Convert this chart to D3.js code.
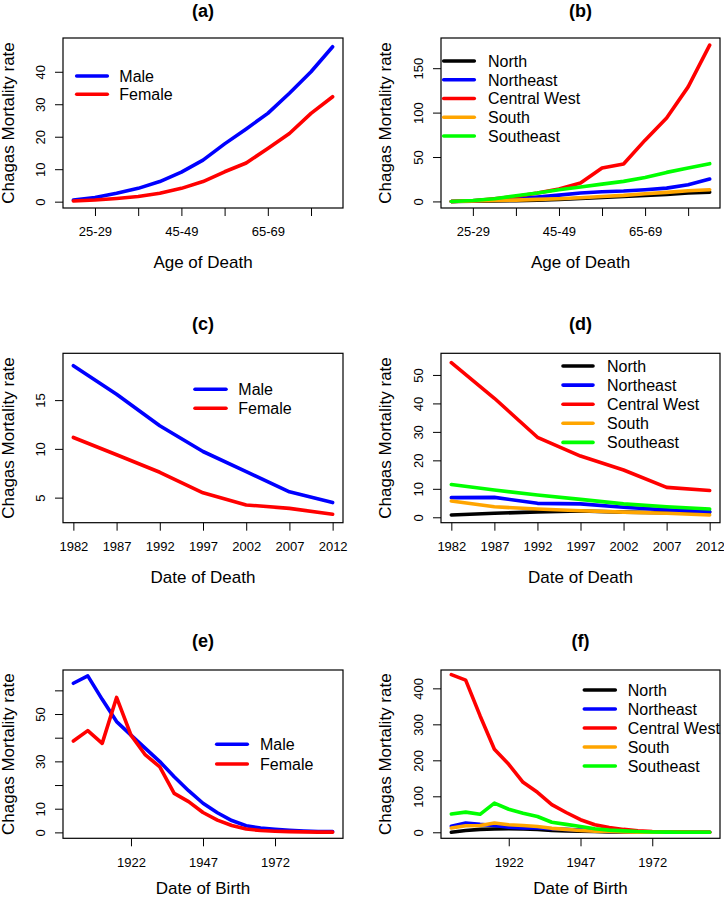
<!DOCTYPE html>
<html>
<head>
<meta charset="utf-8">
<script src="https://cdn.jsdelivr.net/npm/d3@7"></script>
<style>
  body { margin: 0; background: #fff; }
  svg { display: block; font-family: Arial, "Liberation Sans", sans-serif; }
</style>
</head>
<body>
<svg id="chart" width="724" height="899"></svg>
<script>
// ---------------- DATA ----------------
const ageGroups = ["20-24","25-29","30-34","35-39","40-44","45-49","50-54","55-59","60-64","65-69","70-74","75-79","80+"];
const ageMale   = [0.5, 1.3, 2.6, 4.1, 6.2, 9.1, 12.8, 17.8, 22.4, 27.2, 33.4, 40.0, 47.7];
const ageFemale = [0.2, 0.5, 1.0, 1.6, 2.6, 4.1, 6.2, 9.2, 11.9, 16.4, 21.0, 27.2, 32.3];

const ageNorth       = [0, 0.2, 0.5, 0.8, 1.5, 2.3, 3.4, 4.5, 5.6, 6.8, 7.9, 9.4, 10.5];
const ageNortheast   = [0, 0.8, 1.9, 3.0, 4.9, 7.1, 9.4, 10.9, 11.7, 13.2, 15.0, 18.8, 25.2];
const ageCentralWest = [0, 0.8, 3.0, 5.6, 9.4, 13.9, 20.7, 37.6, 42.1, 69, 94, 129, 176];
const ageSouth       = [0, 0.4, 1.0, 1.5, 2.3, 3.0, 4.1, 5.6, 6.8, 8.6, 10.2, 12.0, 13.2];
const ageSoutheast   = [0, 1.1, 3.0, 6.4, 9.4, 13.2, 16.2, 19.5, 22.6, 27.0, 32.7, 37.6, 42.5];

const deathYears  = [1982, 1987, 1992, 1997, 2002, 2007, 2012];
const deathMale   = [18.53, 15.6, 12.37, 9.73, 7.67, 5.6, 4.49];
const deathFemale = [11.17, 9.4, 7.6, 5.5, 4.25, 3.9, 3.3];

const deathNorth       = [0.8, 1.4, 1.9, 2.2, 1.8, 1.6, 1.8];
const deathNortheast   = [6.9, 7.0, 4.9, 4.7, 3.5, 2.6, 2.0];
const deathCentralWest = [54.3, 41.8, 28.1, 21.5, 16.6, 10.5, 9.4];
const deathSouth       = [5.7, 3.7, 2.9, 2.3, 1.8, 1.4, 0.8];
const deathSoutheast   = [11.5, 9.6, 7.8, 6.3, 4.7, 3.7, 2.9];

const birthYears  = [1902,1907,1912,1917,1922,1927,1932,1937,1942,1947,1952,1957,1962,1967,1972,1977,1982,1987,1992];
const birthMale   = [63.0, 66.1, 56.2, 46.8, 41.1, 35.5, 29.9, 23.5, 17.6, 12.3, 8.3, 5.0, 2.8, 1.8, 1.3, 0.9, 0.6, 0.4, 0.3];
const birthFemale = [38.6, 43.0, 37.6, 57.0, 41.1, 32.7, 27.7, 16.5, 13.0, 8.4, 5.2, 2.9, 1.4, 0.8, 0.5, 0.3, 0.2, 0.1, 0.1];

const birthNorth       = [0, 5, 8, 9, 10, 9, 8, 5, 4, 3, 2, 1, 0.5, 0.3, 0.2, 0.1, 0.1, 0, 0];
const birthNortheast   = [17, 26, 22, 19, 14, 12, 12, 10, 8, 6, 4, 2, 1.5, 1, 0.5, 0.3, 0.2, 0.1, 0.1];
const birthCentralWest = [438, 423, 324, 231, 189, 139, 111, 77, 55, 35, 21, 13, 8, 4, 2, 1, 0.5, 0.3, 0.2];
const birthSouth       = [12, 18, 19, 26, 21, 19, 16, 11, 8, 5, 3, 2, 1, 0.5, 0.3, 0.2, 0.1, 0.1, 0];
const birthSoutheast   = [51, 56, 50, 81, 64, 53, 44, 28, 22, 16, 10, 6, 4, 2, 1, 0.5, 0.3, 0.2, 0.1];

const sexNames    = ["Male", "Female"];
const regionNames = ["North", "Northeast", "Central West", "South", "Southeast"];

const ageTickIdx   = [2, 4, 6, 8, 10, 12];
const birthTickIdx = [5, 10, 15];

// ---------------- STYLE / LAYOUT ----------------
const sexColors    = ["#0000ff", "#ff0000"];
const regionColors = ["#000000", "#0000ff", "#ff0000", "#ffa500", "#00ff00"];

const W = 724, H = 899;
const svg = d3.select("#chart");
const colX = [{l: 63, r: 343, ytitle: 14}, {l: 441, r: 720, ytitle: 391}];
const rowY = [{t: 38, b: 208}, {t: 353.3, b: 522.7}, {t: 670, b: 838.3}];

function idx(arr) { return arr.map((_, i) => i + 1); }

const panels = [
  { title: "(a)", col: 0, row: 0, xTitle: "Age of Death",
    xs: idx(ageGroups), xDomain: [0.52, 13.48], xTicks: ageTickIdx,
    xFmt: (d, i) => (i % 2 === 0 ? ageGroups[d - 1] : ""),
    yDomain: [-1.95, 50.4], yTicks: [0, 10, 20, 30, 40], yLabels: [0, 10, 20, 30, 40],
    series: [ageMale, ageFemale], names: sexNames, colors: sexColors,
    legend: {x1: 76.7, x2: 107.3, tx: 119.3, y0: 76, dy: 18.3} },
  { title: "(b)", col: 1, row: 0, xTitle: "Age of Death",
    xs: idx(ageGroups), xDomain: [0.52, 13.48], xTicks: ageTickIdx,
    xFmt: (d, i) => (i % 2 === 0 ? ageGroups[d - 1] : ""),
    yDomain: [-7.4, 184], yTicks: [0, 50, 100, 150], yLabels: [0, 50, 100, 150],
    series: [ageNorth, ageNortheast, ageCentralWest, ageSouth, ageSoutheast], names: regionNames, colors: regionColors,
    legend: {x1: 443.7, x2: 474.3, tx: 488, y0: 61, dy: 18.75} },
  { title: "(c)", col: 0, row: 1, xTitle: "Date of Death",
    xs: deathYears, xDomain: [1980.8, 2013.2], xTicks: deathYears,
    xFmt: d => String(d),
    yDomain: [2.43, 19.8], yTicks: [5, 10, 15], yLabels: [5, 10, 15],
    series: [deathMale, deathFemale], names: sexNames, colors: sexColors,
    legend: {x1: 195, x2: 226, tx: 238.3, y0: 389.3, dy: 19} },
  { title: "(d)", col: 1, row: 1, xTitle: "Date of Death",
    xs: deathYears, xDomain: [1980.8, 2013.2], xTicks: deathYears,
    xFmt: d => String(d),
    yDomain: [-1.9, 57.6], yTicks: [0, 10, 20, 30, 40, 50], yLabels: [0, 10, 20, 30, 40, 50],
    series: [deathNorth, deathNortheast, deathCentralWest, deathSouth, deathSoutheast], names: regionNames, colors: regionColors,
    legend: {x1: 563, x2: 593, tx: 607, y0: 366, dy: 19.1} },
  { title: "(e)", col: 0, row: 2, xTitle: "Date of Birth",
    xs: idx(birthYears), xDomain: [0.28, 19.72], xTicks: birthTickIdx,
    xFmt: d => String(birthYears[d - 1]),
    yDomain: [-2.5, 68.6], yTicks: [0, 10, 20, 30, 40, 50, 60], yLabels: [0, 10, 30, 50],
    series: [birthMale, birthFemale], names: sexNames, colors: sexColors,
    legend: {x1: 216.7, x2: 247.3, tx: 260, y0: 744.3, dy: 19.7} },
  { title: "(f)", col: 1, row: 2, xTitle: "Date of Birth",
    xs: idx(birthYears), xDomain: [0.28, 19.72], xTicks: birthTickIdx,
    xFmt: d => String(birthYears[d - 1]),
    yDomain: [-16.7, 451], yTicks: [0, 100, 200, 300, 400], yLabels: [0, 100, 200, 300, 400],
    series: [birthNorth, birthNortheast, birthCentralWest, birthSouth, birthSoutheast], names: regionNames, colors: regionColors,
    legend: {x1: 584.3, x2: 615.3, tx: 627.7, y0: 690, dy: 19} }
];

panels.forEach(p => {
  const c = colX[p.col], r = rowY[p.row];
  const x = d3.scaleLinear().domain(p.xDomain).range([c.l, c.r]);
  const y = d3.scaleLinear().domain(p.yDomain).range([r.b, r.t]);
  const g = svg.append("g");

  // title
  g.append("text").attr("x", (c.l + c.r) / 2).attr("y", Math.max(r.t - 23, 17))
    .attr("text-anchor", "middle").attr("font-size", 18).attr("font-weight", "bold")
    .text(p.title);

  // x axis
  const xAxis = d3.axisBottom(x).tickValues(p.xTicks).tickSize(8).tickPadding(11)
    .tickFormat(p.xFmt);
  const gx = g.append("g").attr("transform", `translate(0,${r.b})`).call(xAxis);
  gx.select(".domain").remove();
  gx.selectAll("line").attr("stroke", "#000").attr("stroke-width", 1);
  gx.selectAll("text").attr("font-size", 13).attr("font-family", "Arial, 'Liberation Sans', sans-serif").attr("fill", "#000");

  // y axis
  const yAxis = d3.axisLeft(y).tickValues(p.yTicks).tickSize(8)
    .tickFormat(d => (p.yLabels.includes(d) ? String(d) : ""));
  const gy = g.append("g").attr("transform", `translate(${c.l},0)`).call(yAxis);
  gy.select(".domain").remove();
  gy.selectAll("line").attr("stroke", "#000").attr("stroke-width", 1);
  gy.selectAll("text")
    .attr("font-size", 13).attr("font-family", "Arial, 'Liberation Sans', sans-serif").attr("fill", "#000")
    .attr("x", null).attr("dy", null)
    .attr("transform", "translate(-18.5,0) rotate(-90)")
    .attr("text-anchor", "middle");

  // axis titles
  g.append("text").attr("x", (c.l + c.r) / 2).attr("y", Math.min(r.b + 60, H - 5))
    .attr("text-anchor", "middle").attr("font-size", 17).text(p.xTitle);
  g.append("text")
    .attr("transform", `translate(${c.ytitle},${(r.t + r.b) / 2}) rotate(-90)`)
    .attr("text-anchor", "middle").attr("font-size", 17).text("Chagas Mortality rate");

  // lines
  const line = d3.line().x((d, i) => x(p.xs[i])).y(d => y(d));
  p.series.forEach((s, k) => {
    g.append("path").datum(s).attr("d", line)
      .attr("fill", "none").attr("stroke", p.colors[k]).attr("stroke-width", 3.6)
      .attr("stroke-linejoin", "round").attr("stroke-linecap", "round");
  });

  // box
  g.append("rect").attr("x", c.l).attr("y", r.t).attr("width", c.r - c.l).attr("height", r.b - r.t)
    .attr("fill", "none").attr("stroke", "#000").attr("stroke-width", 1.2);

  // legend
  const L = p.legend;
  p.names.forEach((nm, k) => {
    const yy = L.y0 + k * L.dy;
    g.append("line").attr("x1", L.x1).attr("x2", L.x2).attr("y1", yy).attr("y2", yy)
      .attr("stroke", p.colors[k]).attr("stroke-width", 3.6).attr("stroke-linecap", "round");
    g.append("text").attr("x", L.tx).attr("y", yy).attr("dy", "0.36em")
      .attr("font-size", 16).text(nm);
  });
});
</script>
</body>
</html>
